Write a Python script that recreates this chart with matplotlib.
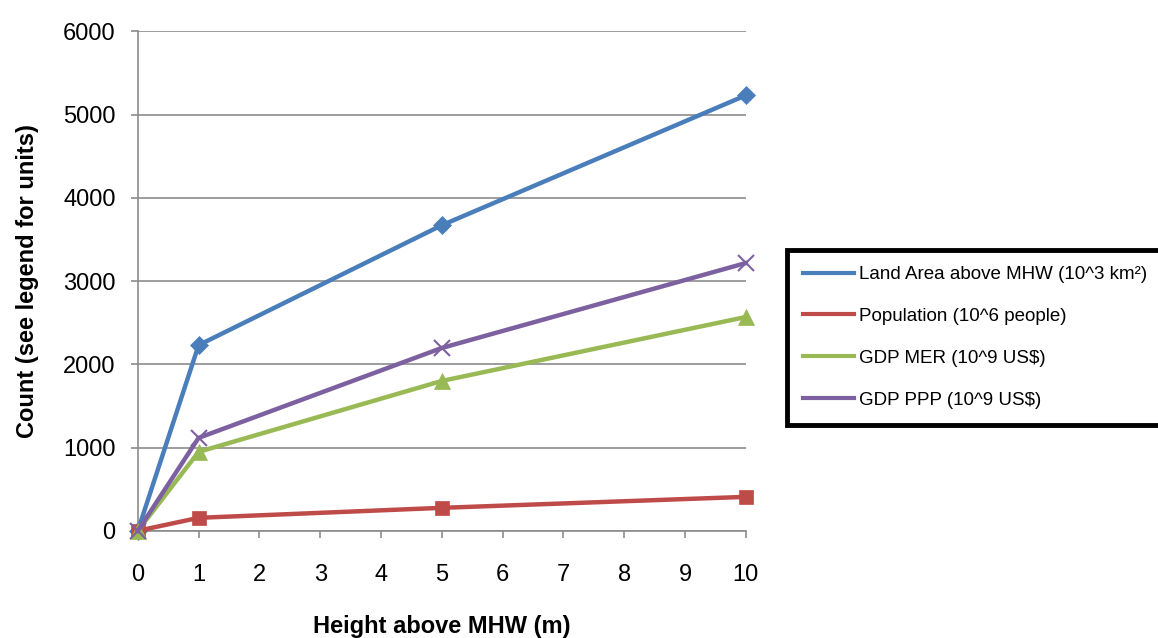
import matplotlib
matplotlib.use('Agg')
import matplotlib.pyplot as plt

plt.rcParams['font.family'] = ['Liberation Sans', 'DejaVu Sans']

# data
heights = [0, 1, 5, 10]
land_area = [0, 2230, 3670, 5230]
population = [0, 156, 276, 408]
gdp_mer = [0, 948, 1800, 2568]
gdp_ppp = [0, 1116, 2196, 3216]

series = [
    ('Land Area above MHW (10^3 km²)', land_area, '#4A7EBB', 'D', 9),
    ('Population (10^6 people)', population, '#BE4B48', 's', 10),
    ('GDP MER (10^9 US$)', gdp_mer, '#98B954', '^', 11),
    ('GDP PPP (10^9 US$)', gdp_ppp, '#7D60A0', 'x', 11),
]

fig = plt.figure(figsize=(11.58, 6.38), dpi=100)
ax = fig.add_axes([0.119, 0.168, 0.525, 0.783])

for label, vals, color, marker, ms in series:
    ax.plot(heights, vals, color=color, linewidth=3.2, marker=marker,
            markersize=ms, markeredgewidth=1.5 if marker == 'x' else 0.5,
            markeredgecolor=color, label=label, clip_on=False, zorder=3)

ax.set_xlim(0, 10)
ax.set_ylim(0, 6000)
ax.set_xticks(range(0, 11))
ax.set_yticks(range(0, 6001, 1000))
ax.yaxis.grid(True, color='#8C8C8C', linewidth=1.2)
ax.set_axisbelow(True)
for s in ['top', 'right']:
    ax.spines[s].set_visible(False)
for s in ['left', 'bottom']:
    ax.spines[s].set_color('#8C8C8C')
    ax.spines[s].set_linewidth(1.2)
ax.tick_params(axis='both', colors='#8C8C8C', labelcolor='black',
               labelsize=17, length=5, width=1.2, direction='out')
ax.tick_params(axis='x', pad=19)
ax.tick_params(axis='y', pad=11)

ax.set_xlabel('Height above MHW (m)', fontsize=17, fontweight='bold', labelpad=21)
ax.set_ylabel('Count (see legend for units)', fontsize=17, fontweight='bold', labelpad=17)

# legend shows lines only
handles = [plt.Line2D([], [], color=c, linewidth=3) for _, _, c, _, _ in series]
leg = fig.legend(handles, [s[0] for s in series], loc='upper left',
                 bbox_to_anchor=(0.6796, 0.608), fontsize=13.5, frameon=True,
                 fancybox=False, edgecolor='black', framealpha=1,
                 handlelength=2.7, labelspacing=1.32, borderpad=0.85,
                 handletextpad=0.3, borderaxespad=0)
leg.get_frame().set_linewidth(3.5)

fig.savefig('out.png', dpi=100, facecolor='white')
